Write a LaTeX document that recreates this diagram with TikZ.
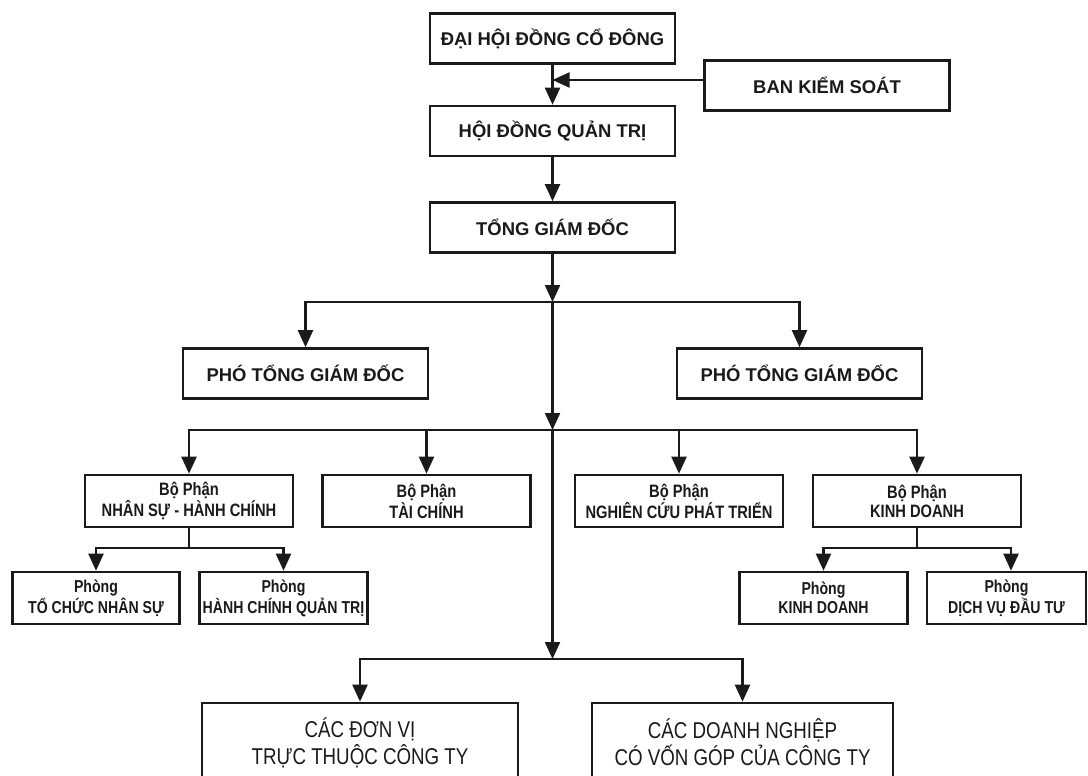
\documentclass[tikz,border=0pt]{standalone}
\usepackage{fontspec}
\setmainfont{Liberation Sans}
\newfontfamily\narrowfont[FakeStretch=0.82]{Liberation Sans}
\newfontfamily\slimfont[FakeStretch=0.82]{Liberation Sans}
\usepackage{xcolor}
\definecolor{inkblack}{HTML}{1A1A1A}
\usetikzlibrary{arrows.meta}

\begin{document}
\begin{tikzpicture}[x=0.02cm,y=-0.02cm,
  box/.style={draw=inkblack,line width=1.5pt,fill=white,inner sep=0pt,
              align=center,text=inkblack},
  bigbox/.style={box,minimum width=4.9cm,minimum height=1cm,
                 font=\fontsize{10.5}{12}\selectfont\bfseries},
  deptbox/.style={box,minimum width=4.16cm,minimum height=1.04cm,
                  font=\narrowfont\bfseries\fontsize{10.2}{10.8}\selectfont},
  roombox/.style={deptbox,minimum width=3.35cm,
                  font=\narrowfont\bfseries\fontsize{9.8}{10.6}\selectfont},
  unitbox/.style={box,minimum height=1.58cm,
                  font=\slimfont\fontsize{13}{15.5}\selectfont},
  wire/.style={line width=1.25pt,draw=inkblack},
  arr/.style={wire,-{Triangle[length=0.34cm,width=0.3cm]}}]

  \useasboundingbox (0,0) rectangle (1088,776);
  \clip (0,0) rectangle (1088,776);

  % board level
  \node[bigbox] (dhcd) at (552.5,38.5) {ĐẠI HỘI ĐỒNG CỔ ĐÔNG};
  \node[bigbox] (bks)  at (827,85.5)   {BAN KIỂM SOÁT};
  \node[bigbox] (hdqt) at (552.5,131)  {HỘI ĐỒNG QUẢN TRỊ};
  \node[bigbox] (tgd)  at (552.5,227.5) {TỔNG GIÁM ĐỐC};

  % deputies
  \node[bigbox] (pho1) at (305.5,373.5) {PHÓ TỔNG GIÁM ĐỐC};
  \node[bigbox] (pho2) at (799.5,373.5) {PHÓ TỔNG GIÁM ĐỐC};

  % departments
  \node[deptbox] (bpns) at (189,501)   {Bộ Phận\\NHÂN SỰ - HÀNH CHÍNH};
  \node[deptbox] (bptc) at (426.5,501) {Bộ Phận\\TÀI CHÍNH};
  \node[deptbox] (bpnc) at (679,501)   {Bộ Phận\\NGHIÊN CỨU PHÁT TRIỂN};
  \node[deptbox] (bpkd) at (917,501)   {Bộ Phận\\KINH DOANH};

  % rooms
  \node[roombox] (ptc) at (96,598)    {Phòng\\TỔ CHỨC NHÂN SỰ};
  \node[roombox] (phc) at (283.5,598) {Phòng\\HÀNH CHÍNH QUẢN TRỊ};
  \node[roombox] (pkd) at (823.5,598) {Phòng\\KINH DOANH};
  \node[roombox,minimum width=3.18cm] (pdv) at (1006.5,598) {Phòng\\DỊCH VỤ ĐẦU TƯ};

  % units
  \node[unitbox,minimum width=6.32cm] (dvtt) at (360,742.5)
    {CÁC ĐƠN VỊ\\TRỰC THUỘC CÔNG TY};
  \node[unitbox,minimum width=6.02cm] (dnvg) at (742.5,742.5)
    {CÁC DOANH NGHIỆP\\CÓ VỐN GÓP CỦA CÔNG TY};

  % junctions
  \coordinate (j0) at (552.5,80);
  \coordinate (j1) at (552.5,302);
  \coordinate (j2) at (552.5,430);
  \coordinate (j3) at (552.5,659);
  \coordinate (jns) at (189,548);
  \coordinate (jkd) at (917,548);

  % connectors
  \draw[arr] (dhcd) -- (hdqt);
  \draw[arr] (bks.west |- j0) -- (j0);
  \draw[arr] (hdqt) -- (tgd);
  \draw[arr] (tgd) -- (j1);
  \draw[arr] (j1) -| (pho1);
  \draw[arr] (j1) -| (pho2);
  \draw[arr] (j1) -- (j2);
  \foreach \dept in {bpns,bptc,bpnc,bpkd}
    \draw[arr] (j2) -| (\dept);
  \draw[arr] (j2) -- (j3);
  \draw[arr] (j3) -| (dvtt);
  \draw[arr] (j3) -| (dnvg);

  \draw[wire] (bpns) -- (jns);
  \draw[arr] (jns) -| (ptc);
  \draw[arr] (jns) -| (phc);
  \draw[wire] (bpkd) -- (jkd);
  \draw[arr] (jkd) -| (pkd);
  \draw[arr] (jkd) -| ([xshift=0.09cm]pdv.north);
\end{tikzpicture}
\end{document}
